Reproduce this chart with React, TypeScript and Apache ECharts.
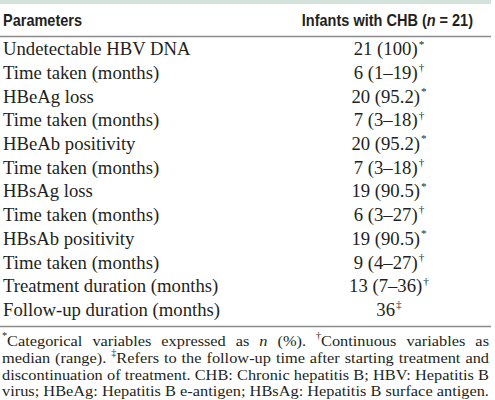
import React, { useEffect, useRef } from "react";
import * as echarts from "echarts";

const headerLeft = "Parameters";
const headerRightParts = [
  { t: "Infants with CHB (", i: false },
  { t: "n", i: true },
  { t: " = 21)", i: false },
];
const parameters = [
  "Undetectable HBV DNA",
  "Time taken (months)",
  "HBeAg loss",
  "Time taken (months)",
  "HBeAb positivity",
  "Time taken (months)",
  "HBsAg loss",
  "Time taken (months)",
  "HBsAb positivity",
  "Time taken (months)",
  "Treatment duration (months)",
  "Follow-up duration (months)",
];
const values = [
  "21 (100)",
  "6 (1–19)",
  "20 (95.2)",
  "7 (3–18)",
  "20 (95.2)",
  "7 (3–18)",
  "19 (90.5)",
  "6 (3–27)",
  "19 (90.5)",
  "9 (4–27)",
  "13 (7–36)",
  "36",
];
const markers = ["*", "†", "*", "†", "*", "†", "*", "†", "*", "†", "†", "‡"];
const footnotes = [
  "^*Categorical variables expressed as _n_ (%). ^†Continuous variables as",
  "median (range). ^‡Refers to the follow-up time after starting treatment and",
  "discontinuation of treatment. CHB: Chronic hepatitis B; HBV: Hepatitis B",
  "virus; HBeAg: Hepatitis B e-antigen; HBsAg: Hepatitis B surface antigen.",
];

const SERIF = '"Liberation Serif", "Times New Roman", serif';
const SANS = '"Liberation Sans", Arial, sans-serif';
const INK = "#231f20";

type Seg = { t: string; k: "n" | "i" | "s" };

function parseWord(w: string): Seg[] {
  const segs: Seg[] = [];
  let rest = w;
  if (rest.startsWith("^")) {
    segs.push({ t: rest[1], k: "s" });
    rest = rest.slice(2);
  }
  const m = rest.match(/^_(.+)_$/);
  if (m) segs.push({ t: m[1], k: "i" });
  else if (rest.length) segs.push({ t: rest, k: "n" });
  return segs;
}

export default function App() {
  const ref = useRef<HTMLDivElement>(null);
  useEffect(() => {
    if (!ref.current) return;
    const chart = echarts.init(ref.current, undefined, { renderer: "svg" });
    const ctx = document.createElement("canvas").getContext("2d")!;
    const measure = (text: string, font: string) => {
      ctx.font = font;
      return ctx.measureText(text).width;
    };

    const W = 491;
    const els: any[] = [];
    els.push({ type: "rect", silent: true, shape: { x: 0, y: 0, width: W, height: 4 }, style: { fill: "#d3e2da" } });
    els.push({ type: "line", silent: true, shape: { x1: 0, y1: 36.5, x2: W, y2: 36.5 }, style: { stroke: "#8a8a8a", lineWidth: 1.5 } });
    els.push({ type: "line", silent: true, shape: { x1: 0, y1: 326.5, x2: W, y2: 326.5 }, style: { stroke: "#8a8a8a", lineWidth: 1.5 } });

    // header
    const hfs = 16.3;
    const hBase = 25.5;
    const hy = hBase - 0.3465 * hfs;
    const hScale = 79 / measure(headerLeft, `bold ${hfs}px ${SANS}`);
    const htext = (t: string, x: number, italic: boolean) => ({
      type: "text",
      silent: true,
      x,
      y: hy,
      scaleX: hScale,
      style: {
        text: t,
        fontSize: hfs,
        fontFamily: SANS,
        fontWeight: "bold",
        fontStyle: italic ? "italic" : "normal",
        fill: INK,
        align: "left",
        verticalAlign: "middle",
      },
    });
    els.push(htext(headerLeft, 3, false));
    const partW = headerRightParts.map(
      (p) => measure(p.t, `${p.i ? "italic " : ""}bold ${hfs}px ${SANS}`) * hScale
    );
    let hx = 473 - partW.reduce((a, b) => a + b, 0);
    headerRightParts.forEach((p, i) => {
      els.push(htext(p.t, hx, p.i));
      hx += partW[i];
    });

    // body rows
    const bfs = 18.5;
    const bodyFont = `${bfs}px ${SERIF}`;
    const bScale = 188 / measure(parameters[0], bodyFont);
    const supFs = bfs * 0.6;
    const supFont = `${supFs}px ${SERIF}`;
    const base0 = 55;
    const pitch = 23.7;
    const btext = (t: string, x: number, y: number, fs: number) => ({
      type: "text",
      silent: true,
      x,
      y,
      scaleX: bScale,
      style: { text: t, fontSize: fs, fontFamily: SERIF, fill: INK, align: "left", verticalAlign: "middle" },
    });
    parameters.forEach((p, i) => {
      const base = base0 + i * pitch;
      const cy = base - 0.3375 * bfs;
      els.push(btext(p, 3, cy, bfs));
      const vw = measure(values[i], bodyFont) * bScale;
      const sw = measure(markers[i], supFont) * bScale;
      const sx = 389 - (vw + sw + 1) / 2;
      els.push(btext(values[i], sx, cy, bfs));
      els.push(btext(markers[i], sx + vw + 1, base - 0.62 * bfs, supFs));
    });

    // footnotes
    const ffs = 15.5;
    const fSup = ffs * 0.62;
    const fontFor = (k: string) =>
      k === "s" ? `${fSup}px ${SERIF}` : k === "i" ? `italic ${ffs}px ${SERIF}` : `${ffs}px ${SERIF}`;
    const fBase = [345.5, 362.5, 379.5, 396];
    const fx0 = 2;
    const fx1 = 489;
    const plain = (line: string) => line.replace(/\^/g, "").replace(/_/g, "");
    const fScale = (fx1 - fx0) / measure(plain(footnotes[3]), fontFor("n"));
    footnotes.forEach((line, li) => {
      const words = line.split(" ").map(parseWord);
      const widths = words.map(
        (segs) => segs.reduce((a, s) => a + measure(s.t, fontFor(s.k)), 0) * fScale
      );
      const total = widths.reduce((a, b) => a + b, 0);
      const gap = (fx1 - fx0 - total) / (words.length - 1);
      let x = fx0;
      const base = fBase[li];
      words.forEach((segs, wi) => {
        let sx = x;
        segs.forEach((s) => {
          const fs = s.k === "s" ? fSup : ffs;
          const y = s.k === "s" ? base - 0.62 * ffs : base - 0.3375 * ffs;
          els.push({
            type: "text",
            silent: true,
            x: sx,
            y,
            scaleX: fScale,
            style: {
              text: s.t,
              fontSize: fs,
              fontFamily: SERIF,
              fontStyle: s.k === "i" ? "italic" : "normal",
              fill: INK,
              align: "left",
              verticalAlign: "middle",
            },
          });
          sx += measure(s.t, fontFor(s.k)) * fScale;
        });
        x += widths[wi] + gap;
      });
    });

    chart.setOption({ animation: false, backgroundColor: "#ffffff", graphic: { elements: els } });
    return () => chart.dispose();
  }, []);
  return (
    <div
      ref={ref}
      style={{ position: "absolute", left: 0, top: 0, width: 495, height: 400, background: "#fff" }}
    />
  );
}
